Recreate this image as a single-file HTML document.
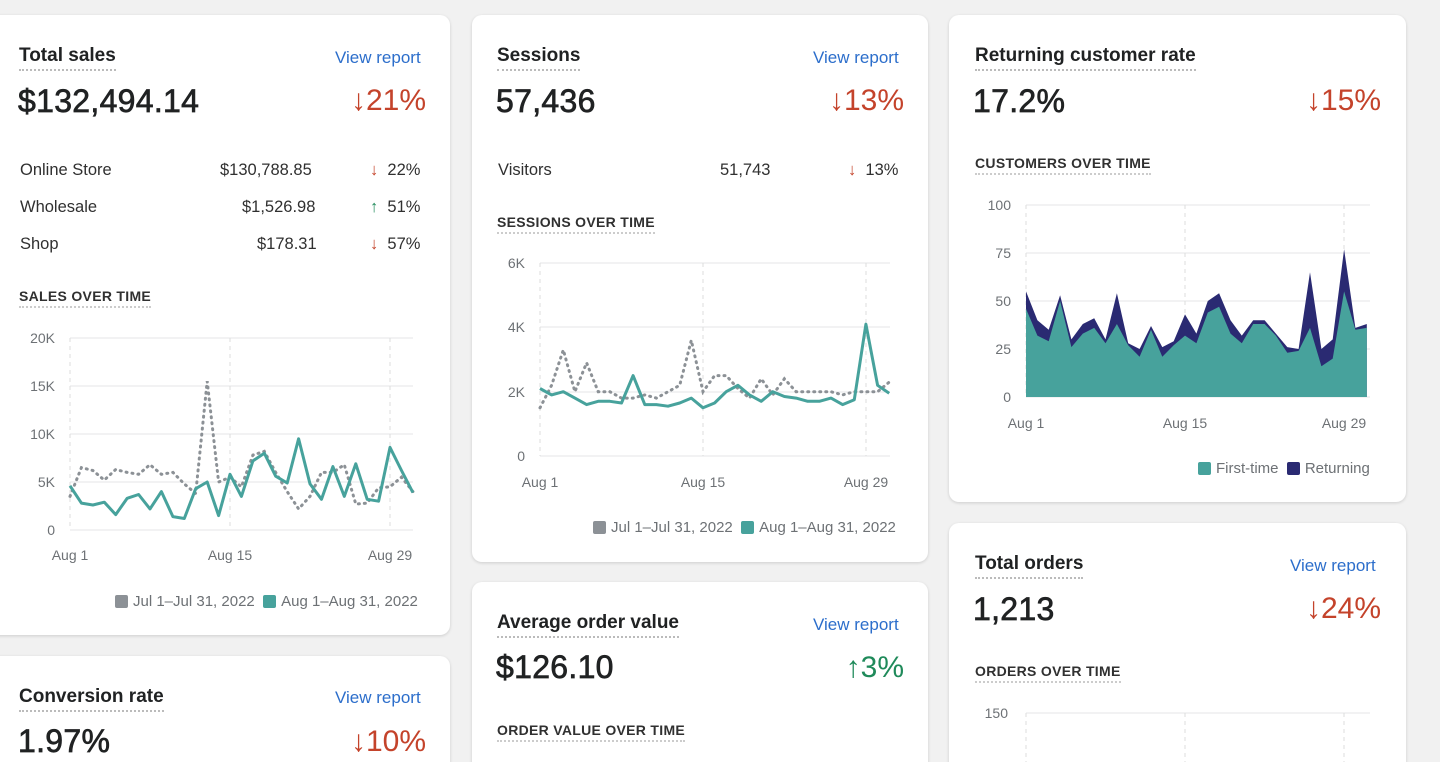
<!DOCTYPE html>
<html style="width:1440px;height:762px;overflow:hidden"><head><meta charset="utf-8">
<style>
body{margin:0;width:1440px;height:762px;overflow:hidden;background:#f1f1f1;font-family:"Liberation Sans",sans-serif;color:#202223;position:relative}
.card{position:absolute;background:#fff;border-radius:10px;box-shadow:0 1px 3px rgba(0,0,0,.15)}
.t{position:absolute;font-size:19px;font-weight:600;border-bottom:2px dotted #bbb;padding-bottom:2px;color:#202223}
.vr{position:absolute;font-size:17px;color:#2c6ecb}
.big{position:absolute;font-size:32px;font-weight:500;letter-spacing:.3px;-webkit-text-stroke:0.7px #202223}
.pct{position:absolute;font-size:30px;color:#c4432b;text-align:right}
.g{color:#1f8a5a}
.row{position:absolute;font-size:16.5px;color:#303030}
.sub{position:absolute;font-size:14px;font-weight:700;letter-spacing:.3px;border-bottom:2px dotted #ccc;padding-bottom:2px;color:#303030}
svg{position:absolute;left:0;top:0}
svg text{font-family:"Liberation Sans",sans-serif;font-size:14px;fill:#6d7175}
.lg{position:absolute;font-size:15px;color:#6d7175}
.sq{display:inline-block;width:13px;height:13px;border-radius:2px;vertical-align:-2px;margin-right:5px}
</style></head><body>

<div class="card" style="left:-12px;top:15px;width:462px;height:620px"></div>
<div class="card" style="left:472px;top:15px;width:456px;height:547px"></div>
<div class="card" style="left:949px;top:15px;width:457px;height:487px"></div>
<div class="card" style="left:949px;top:523px;width:457px;height:260px"></div>
<div class="card" style="left:472px;top:582px;width:456px;height:200px"></div>
<div class="card" style="left:-12px;top:656px;width:462px;height:130px"></div>

<div class="t" style="left:19px;top:45px">Total sales</div>
<div class="vr" style="left:335px;top:48px">View report</div>
<div class="big" style="left:18px;top:83px">$132,494.14</div>
<div class="pct" style="left:340px;top:84px;width:86px">↓21%</div>
<div class="row" style="left:20px;top:161px">Online Store</div><div class="row" style="left:220px;top:161px">$130,788.85</div><div class="row" style="left:370px;top:161px"><span style="color:#c4432b">↓</span>&nbsp; 22%</div>
<div class="row" style="left:20px;top:198px">Wholesale</div><div class="row" style="left:242px;top:198px">$1,526.98</div><div class="row" style="left:370px;top:198px"><span class="g">↑</span>&nbsp; 51%</div>
<div class="row" style="left:20px;top:235px">Shop</div><div class="row" style="left:257px;top:235px">$178.31</div><div class="row" style="left:370px;top:235px"><span style="color:#c4432b">↓</span>&nbsp; 57%</div>
<div class="sub" style="left:19px;top:288px">SALES OVER TIME</div>
<div class="lg" style="left:115px;top:593px"><span class="sq" style="background:#8c9196"></span>Jul 1–Jul 31, 2022 &nbsp;<span class="sq" style="background:#47a29c"></span>Aug 1–Aug 31, 2022</div>

<div class="t" style="left:497px;top:45px">Sessions</div>
<div class="vr" style="left:813px;top:48px">View report</div>
<div class="big" style="left:496px;top:83px">57,436</div>
<div class="pct" style="left:818px;top:84px;width:86px">↓13%</div>
<div class="row" style="left:498px;top:161px">Visitors</div><div class="row" style="left:720px;top:161px">51,743</div><div class="row" style="left:848px;top:161px"><span style="color:#c4432b">↓</span>&nbsp; 13%</div>
<div class="sub" style="left:497px;top:214px">SESSIONS OVER TIME</div>
<div class="lg" style="left:593px;top:519px"><span class="sq" style="background:#8c9196"></span>Jul 1–Jul 31, 2022 &nbsp;<span class="sq" style="background:#47a29c"></span>Aug 1–Aug 31, 2022</div>

<div class="t" style="left:975px;top:45px">Returning customer rate</div>
<div class="big" style="left:973px;top:83px">17.2%</div>
<div class="pct" style="left:1295px;top:84px;width:86px">↓15%</div>
<div class="sub" style="left:975px;top:155px">CUSTOMERS OVER TIME</div>
<div class="lg" style="left:1198px;top:460px"><span class="sq" style="background:#47a29c"></span>First-time &nbsp;<span class="sq" style="background:#2a2a72"></span>Returning</div>

<div class="t" style="left:975px;top:553px">Total orders</div>
<div class="vr" style="left:1290px;top:556px">View report</div>
<div class="big" style="left:973px;top:591px">1,213</div>
<div class="pct" style="left:1295px;top:592px;width:86px">↓24%</div>
<div class="sub" style="left:975px;top:663px">ORDERS OVER TIME</div>

<div class="t" style="left:497px;top:612px">Average order value</div>
<div class="vr" style="left:813px;top:615px">View report</div>
<div class="big" style="left:496px;top:649px">$126.10</div>
<div class="pct g" style="left:818px;top:651px;width:86px">↑3%</div>
<div class="sub" style="left:497px;top:722px">ORDER VALUE OVER TIME</div>

<div class="t" style="left:19px;top:686px">Conversion rate</div>
<div class="vr" style="left:335px;top:688px">View report</div>
<div class="big" style="left:18px;top:723px">1.97%</div>
<div class="pct" style="left:340px;top:725px;width:86px">↓10%</div>

<svg id="s" width="1440" height="762"></svg>
<script>
var out='';
function grid(x0,x1,ys,labels,xs,xl,ylab){
 for(var i=0;i<ys.length;i++){out+='<line x1="'+x0+'" x2="'+x1+'" y1="'+ys[i]+'" y2="'+ys[i]+'" stroke="#e4e5e7"/>';
  out+='<text x="'+(x0-15)+'" y="'+(ys[i]+5)+'" text-anchor="end">'+labels[i]+'</text>';}
 for(var j=0;j<xs.length;j++){out+='<line x1="'+xs[j]+'" x2="'+xs[j]+'" y1="'+ys[ys.length-1]+'" y2="'+ys[0]+'" stroke="#ddd" stroke-dasharray="4 4"/>';
  out+='<text x="'+xs[j]+'" y="'+xl+'" text-anchor="middle">'+['Aug 1','Aug 15','Aug 29'][j]+'</text>';}
}
function pts(d,x0,st,y0,sc){return d.map(function(v,i){return (x0+i*st).toFixed(1)+','+(y0-v*sc).toFixed(1)}).join(' ');}
grid(70,413,[530,482,434,386,338],['0','5K','10K','15K','20K'],[70,230,390],560);
var sg=[3.5,6.5,6.2,5.2,6.3,6.0,5.8,6.8,5.8,6.0,4.8,3.8,15.5,5.0,5.5,4.5,7.8,8.2,6.0,4.0,2.2,3.5,6.0,6.0,6.8,2.7,2.8,4.4,4.5,5.5,4.0];
var st=[4.6,2.8,2.6,2.9,1.6,3.3,3.7,2.2,4.0,1.4,1.2,4.3,5.0,1.5,5.8,3.5,7.2,8.0,5.6,4.9,9.5,4.8,3.2,6.6,3.5,6.9,3.2,3.0,8.6,6.2,3.9];
out+='<polyline fill="none" stroke="#8c9196" stroke-width="3" stroke-dasharray="1 5" stroke-linecap="round" points="'+pts(sg,70,11.43,530,9.6)+'"/>';
out+='<polyline fill="none" stroke="#47a29c" stroke-width="3" stroke-linejoin="round" points="'+pts(st,70,11.43,530,9.6)+'"/>';
grid(540,890,[456,392,327,263],['0','2K','4K','6K'],[540,703,866],487);
var eg=[1.5,2.2,3.3,2.0,2.9,2.0,2.0,1.8,1.8,1.9,1.8,2.0,2.2,3.6,2.0,2.5,2.5,2.1,1.8,2.4,1.9,2.4,2.0,2.0,2.0,2.0,1.9,2.0,2.0,2.0,2.3];
var et=[2.1,1.9,2.0,1.8,1.6,1.7,1.7,1.65,2.5,1.6,1.6,1.55,1.65,1.8,1.5,1.65,2.0,2.2,1.9,1.7,2.0,1.85,1.8,1.7,1.7,1.8,1.6,1.75,4.1,2.2,1.95];
out+='<polyline fill="none" stroke="#8c9196" stroke-width="3" stroke-dasharray="1 5" stroke-linecap="round" points="'+pts(eg,540,11.64,456,32.15)+'"/>';
out+='<polyline fill="none" stroke="#47a29c" stroke-width="3" stroke-linejoin="round" points="'+pts(et,540,11.64,456,32.15)+'"/>';
grid(1026,1370,[397,349,301,253,205],['0','25','50','75','100'],[1026,1185,1344],428);
var ct=[55,40,35,53,30,38,41,30,54,28,25,37,26,29,43,33,50,54,40,32,40,40,33,26,25,65,25,30,77,36,38];
var cf=[46,32,29,50,26,33,36,28,38,27,21,35,21,27,32,28,44,47,33,28,38,38,32,23,24,36,16,20,55,35,36];
var x1=(1026+30*11.36).toFixed(1);
out+='<polygon fill="#2a2a72" points="1026,397 '+pts(ct,1026,11.36,397,1.92)+' '+x1+',397"/>';
out+='<polygon fill="#47a29c" points="1026,397 '+pts(cf,1026,11.36,397,1.92)+' '+x1+',397"/>';
out+='<text x="1008" y="718" text-anchor="end">150</text><line x1="1026" x2="1370" y1="713" y2="713" stroke="#e4e5e7"/><line x1="1026" x2="1026" y1="713" y2="762" stroke="#ddd" stroke-dasharray="4 4"/><line x1="1185" x2="1185" y1="713" y2="762" stroke="#ddd" stroke-dasharray="4 4"/><line x1="1344" x2="1344" y1="713" y2="762" stroke="#ddd" stroke-dasharray="4 4"/>';
document.getElementById('s').innerHTML=out;
</script>
</body></html>
